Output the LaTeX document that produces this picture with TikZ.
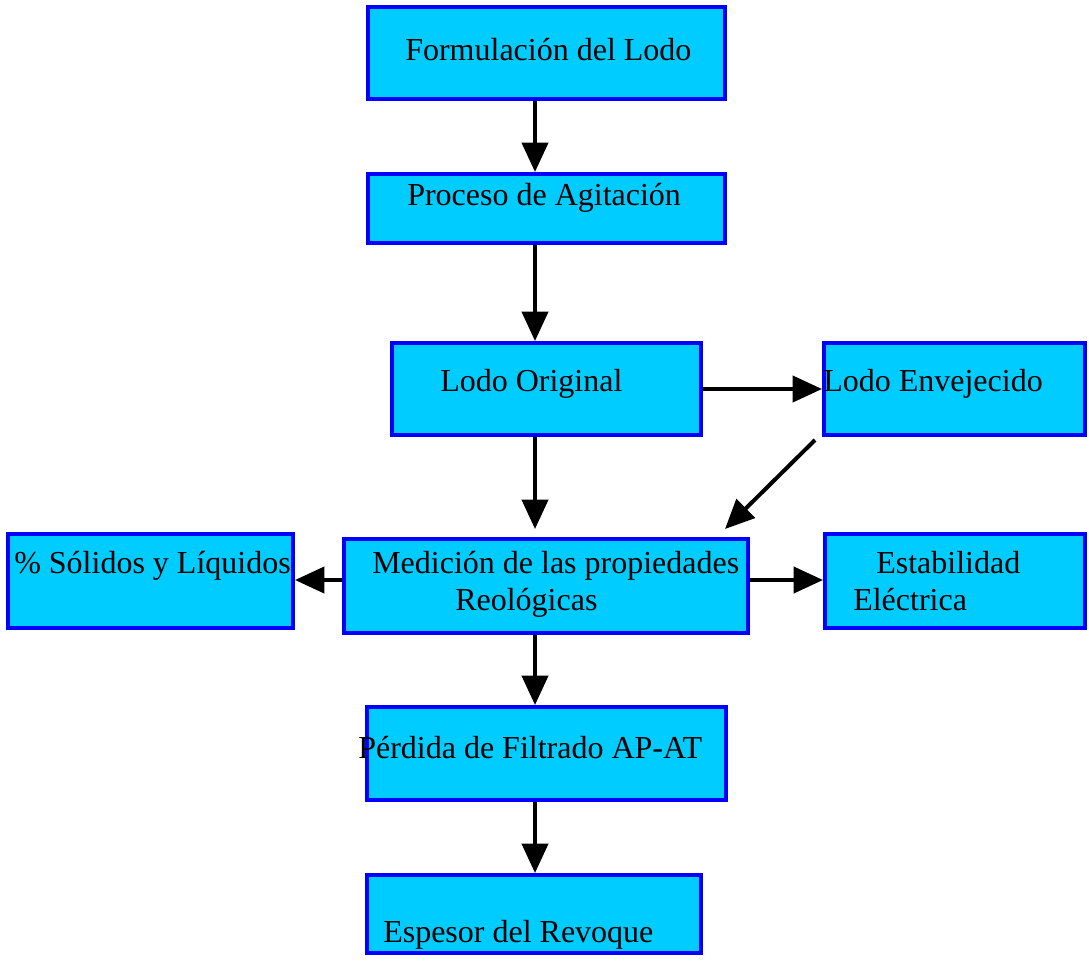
\documentclass[tikz,border=0pt]{standalone}
\usepackage{fontspec}
\setmainfont{Liberation Serif}
\usetikzlibrary{arrows.meta,calc}
\definecolor{boxfill}{HTML}{00CCFF}
\definecolor{boxline}{HTML}{0000FF}
\begin{document}
\begin{tikzpicture}[x=0.75pt,y=-0.75pt,
  box/.style={draw=boxline,fill=boxfill,line width=3pt,rectangle,inner sep=0pt},
  lbl/.style={anchor=base west,inner sep=0pt,font=\fontsize{24}{28}\selectfont},
  arr/.style={line width=3pt,-{Triangle[width=19.5pt,length=22pt]}}]
\useasboundingbox (0,0) rectangle (1089,961);
\node[box,minimum width=267.75pt,minimum height=69pt] (form) at (546.5,53) {};
\node[box,minimum width=267.75pt,minimum height=51.75pt] (proc) at (546.5,208.5) {};
\node[box,minimum width=231.75pt,minimum height=69pt] (orig) at (546.5,389) {};
\node[box,minimum width=195.75pt,minimum height=69pt] (env) at (954.5,389) {};
\node[box,minimum width=213.75pt,minimum height=70.5pt] (sol) at (150.5,581) {};
\node[box,minimum width=303pt,minimum height=70.5pt] (med) at (546,586) {};
\node[box,minimum width=195pt,minimum height=70.5pt] (est) at (955,581) {};
\node[box,minimum width=269.25pt,minimum height=69.75pt] (perd) at (546.5,753.5) {};
\node[box,minimum width=250.5pt,minimum height=58.5pt] (esp) at (534,914) {};

\node[lbl] (tform) at (405,60) {Formulación del Lodo};
\node[lbl] (tproc) at (407,205) {Proceso de Agitación};
\node[lbl] (torig) at (440,391) {Lodo Original};
\node[lbl] (tenv) at (823,391) {Lodo Envejecido};
\node[lbl] (tsol) at (14,573) {\% Sólidos y Líquidos};
\node[lbl] (tmed1) at (372,573) {Medición de las propiedades};
\node[lbl] (tmed2) at (455,610) {Reológicas};
\node[lbl] (test1) at (876,573) {Estabilidad};
\node[lbl] (test2) at (853,610) {Eléctrica};
\node[lbl] (tperd) at (358,758) {Pérdida de Filtrado AP-AT};
\node[lbl] (tesp) at (383,942) {Espesor del Revoque};

\coordinate (vx) at (535,0);
\coordinate (hy) at (0,580);
\draw[arr] (vx |- form.south) -- (vx |- proc.north);
\draw[arr] (vx |- proc.south) -- (vx |- orig.north);
\draw[arr,shorten >=6pt] (vx |- orig.south) -- (vx |- med.north);
\draw[arr] (orig.east) -- (env.west);
\draw[arr] ($(env.south west)+(-7,3)$) -- ($(med.north east)+(-25,-8)$);
\draw[arr] (med.west |- hy) -- (sol.east |- hy);
\draw[arr] (med.east |- hy) -- (est.west |- hy);
\draw[arr] (vx |- med.south) -- (vx |- perd.north);
\draw[arr] (vx |- perd.south) -- (vx |- esp.north);
\end{tikzpicture}
\end{document}
